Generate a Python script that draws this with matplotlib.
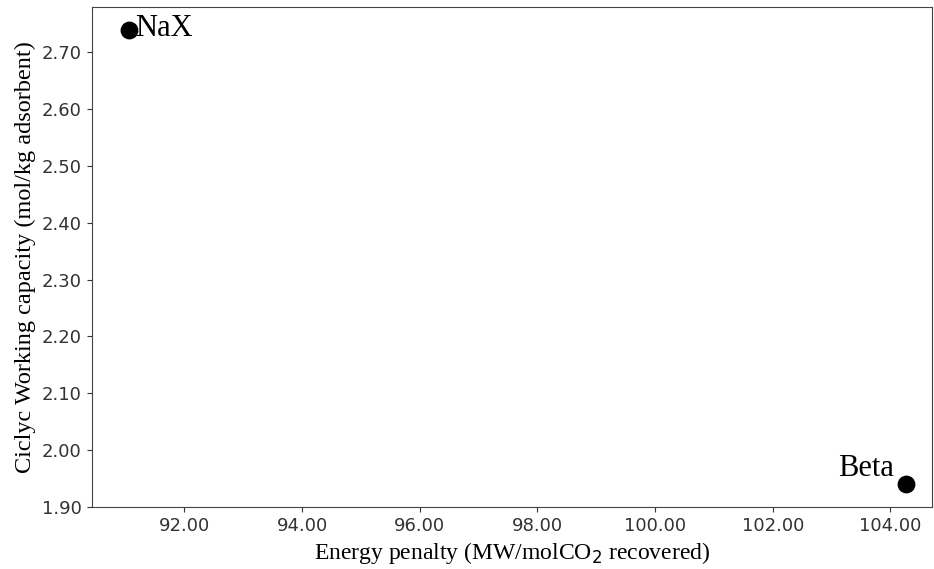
import matplotlib.pyplot as plt
from matplotlib.ticker import FormatStrFormatter

# Dados
materiais = ['NaX', 'Beta']
energia = [91.06, 104.27]
capacidade = [2.74, 1.94]

fig, ax = plt.subplots(figsize=(9.34, 5.69), dpi=100)
ax.scatter(energia, capacidade, s=140, color='black', zorder=3)

serif = 'Liberation Serif'
ax.annotate(materiais[0], (energia[0], capacidade[0]), xytext=(4, 1), textcoords='offset points',
            ha='left', va='center', fontsize=22, family=serif)
ax.annotate(materiais[1], (energia[1], capacidade[1]), xytext=(-9, 1), textcoords='offset points',
            ha='right', va='bottom', fontsize=22, family=serif)

ax.set_xlim(90.42, 104.71)
ax.set_ylim(1.90, 2.78)
ax.xaxis.set_major_formatter(FormatStrFormatter('%.2f'))
ax.yaxis.set_major_formatter(FormatStrFormatter('%.2f'))
ax.tick_params(labelsize=13, colors='#333333')
for s in ax.spines.values():
    s.set_color('#444444')

ax.set_xlabel('Energy penalty (MW/molCO$_2$ recovered)', fontsize=17, family=serif)
ax.set_ylabel('Ciclyc Working capacity (mol/kg adsorbent)', fontsize=17.5, family=serif)

plt.subplots_adjust(left=0.098, right=0.998, top=0.988, bottom=0.109)
plt.savefig('out.png')
